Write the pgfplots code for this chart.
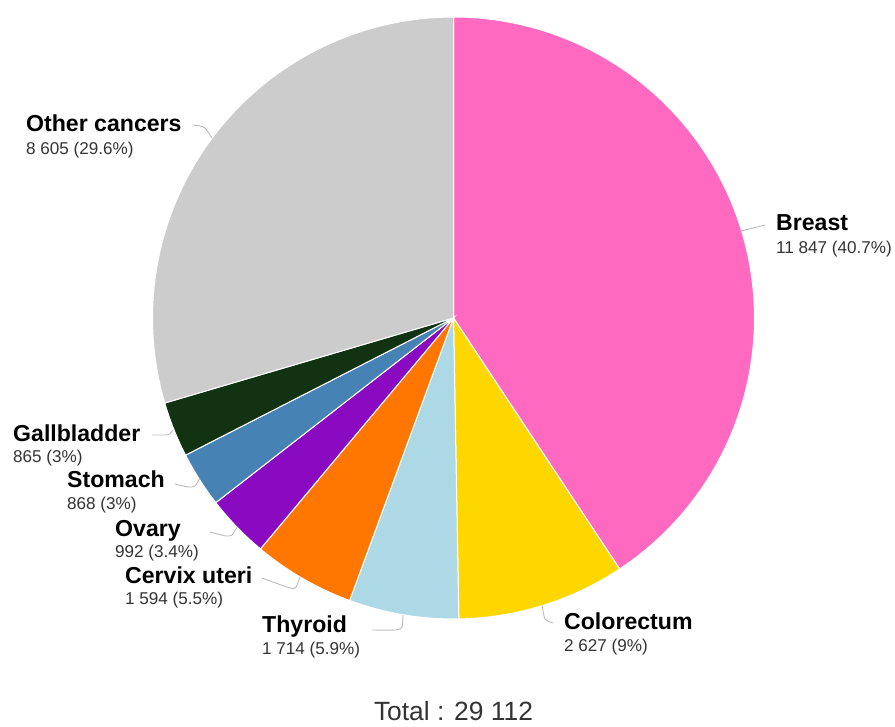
\documentclass[border=0pt]{standalone}
\usepackage{pgfplots}
\pgfplotsset{compat=1.18}
\usepackage{fontspec}
\setmainfont{Liberation Sans}
\definecolor{cBreast}{HTML}{FF69BF}
\definecolor{cColo}{HTML}{FFD700}
\definecolor{cThy}{HTML}{ADD8E6}
\definecolor{cCerv}{HTML}{FF7700}
\definecolor{cOva}{HTML}{8A0AC2}
\definecolor{cStom}{HTML}{4682B4}
\definecolor{cGall}{HTML}{113311}
\definecolor{cOther}{HTML}{CCCCCC}
\definecolor{cLead}{HTML}{BBBBBB}
\definecolor{cVal}{HTML}{333333}
% values
\def\vTotal{29112}
\def\vBreast{11847}
\def\vColo{2627}
\def\vThy{1714}
\def\vCerv{1594}
\def\vOva{992}
\def\vStom{868}
\def\vGall{865}
\def\vOther{8605}
\edef\aA{90}
\edef\aB{\fpeval{round(\aA-360*\vBreast/\vTotal,4)}}
\edef\aC{\fpeval{round(\aB-360*\vColo/\vTotal,4)}}
\edef\aD{\fpeval{round(\aC-360*\vThy/\vTotal,4)}}
\edef\aE{\fpeval{round(\aD-360*\vCerv/\vTotal,4)}}
\edef\aF{\fpeval{round(\aE-360*\vOva/\vTotal,4)}}
\edef\aG{\fpeval{round(\aF-360*\vStom/\vTotal,4)}}
\edef\aH{\fpeval{round(\aG-360*\vGall/\vTotal,4)}}
\edef\aI{\fpeval{round(\aH-360*\vOther/\vTotal,4)}}
\newcommand{\nm}[1]{{\fontsize{23.1}{26}\selectfont\bfseries #1}}
\newcommand{\vl}[1]{{\fontsize{17.1}{20}\selectfont\color{cVal}#1}}
\begin{document}
\begin{tikzpicture}
\begin{axis}[
  x=1pt, y=1pt,
  xmin=0, xmax=895, ymin=0, ymax=727,
  hide axis, clip=false,
  samples=120,
]
\path (axis cs:0,0) rectangle (axis cs:895,727);
\pgfplotsset{slice/.style={draw=white, line width=1pt, fill=#1, variable=\t}}
\addplot[slice=cBreast, domain=\aB:\aA] ({453.5+301*cos(\t)},{409+301*sin(\t)}) -- (axis cs:453.5,409) -- cycle;
\addplot[slice=cColo, domain=\aC:\aB] ({453.5+301*cos(\t)},{409+301*sin(\t)}) -- (axis cs:453.5,409) -- cycle;
\addplot[slice=cThy, domain=\aD:\aC] ({453.5+301*cos(\t)},{409+301*sin(\t)}) -- (axis cs:453.5,409) -- cycle;
\addplot[slice=cCerv, domain=\aE:\aD] ({453.5+301*cos(\t)},{409+301*sin(\t)}) -- (axis cs:453.5,409) -- cycle;
\addplot[slice=cOva, domain=\aF:\aE] ({453.5+301*cos(\t)},{409+301*sin(\t)}) -- (axis cs:453.5,409) -- cycle;
\addplot[slice=cStom, domain=\aG:\aF] ({453.5+301*cos(\t)},{409+301*sin(\t)}) -- (axis cs:453.5,409) -- cycle;
\addplot[slice=cGall, domain=\aH:\aG] ({453.5+301*cos(\t)},{409+301*sin(\t)}) -- (axis cs:453.5,409) -- cycle;
\addplot[slice=cOther, domain=\aI:\aH] ({453.5+301*cos(\t)},{409+301*sin(\t)}) -- (axis cs:453.5,409) -- cycle;
% leader lines
\pgfplotsset{lead/.style={draw=cLead, line width=0.9pt, no marks, smooth, tension=0.4}}
\addplot[lead] coordinates {(741,496) (765,502)};
\addplot[lead] coordinates {(542,122) (545,108) (553,104)};
\addplot[lead] coordinates {(403,112) (402,100) (396,97) (372,97)};
\addplot[lead] coordinates {(300,150) (296,140) (290,139) (262,149)};
\addplot[lead] coordinates {(237,200) (232,192) (226,191) (210,195)};
\addplot[lead] coordinates {(200,249) (195,241) (188,240) (175,243)};
\addplot[lead] coordinates {(173,297) (170,293) (165,292) (152,292)};
\addplot[lead] coordinates {(212,589) (205,599) (200,601) (193,602)};
% labels
\node[anchor=base west, inner sep=0pt] at (axis cs:776,496) {\nm{Breast}};
\node[anchor=base west, inner sep=0pt] at (axis cs:776,473) {\vl{11 847 (40.7\%)}};
\node[anchor=base west, inner sep=0pt] at (axis cs:564,97) {\nm{Colorectum}};
\node[anchor=base west, inner sep=0pt] at (axis cs:564,75) {\vl{2 627 (9\%)}};
\node[anchor=base west, inner sep=0pt] at (axis cs:262,94) {\nm{Thyroid}};
\node[anchor=base west, inner sep=0pt] at (axis cs:262,72) {\vl{1 714 (5.9\%)}};
\node[anchor=base west, inner sep=0pt] at (axis cs:125,143) {\nm{Cervix uteri}};
\node[anchor=base west, inner sep=0pt] at (axis cs:125,122) {\vl{1 594 (5.5\%)}};
\node[anchor=base west, inner sep=0pt] at (axis cs:115,190) {\nm{Ovary}};
\node[anchor=base west, inner sep=0pt] at (axis cs:115,169) {\vl{992 (3.4\%)}};
\node[anchor=base west, inner sep=0pt] at (axis cs:67,239) {\nm{Stomach}};
\node[anchor=base west, inner sep=0pt] at (axis cs:67,217) {\vl{868 (3\%)}};
\node[anchor=base west, inner sep=0pt] at (axis cs:13,285) {\nm{Gallbladder}};
\node[anchor=base west, inner sep=0pt] at (axis cs:13,264) {\vl{865 (3\%)}};
\node[anchor=base west, inner sep=0pt] at (axis cs:26,595) {\nm{Other cancers}};
\node[anchor=base west, inner sep=0pt] at (axis cs:26,572) {\vl{8 605 (29.6\%)}};
\node[anchor=base, inner sep=0pt] at (axis cs:453.5,6) {\fontsize{26.4}{30}\selectfont\color{cVal}Total : 29 112};
\end{axis}
\end{tikzpicture}
\end{document}
